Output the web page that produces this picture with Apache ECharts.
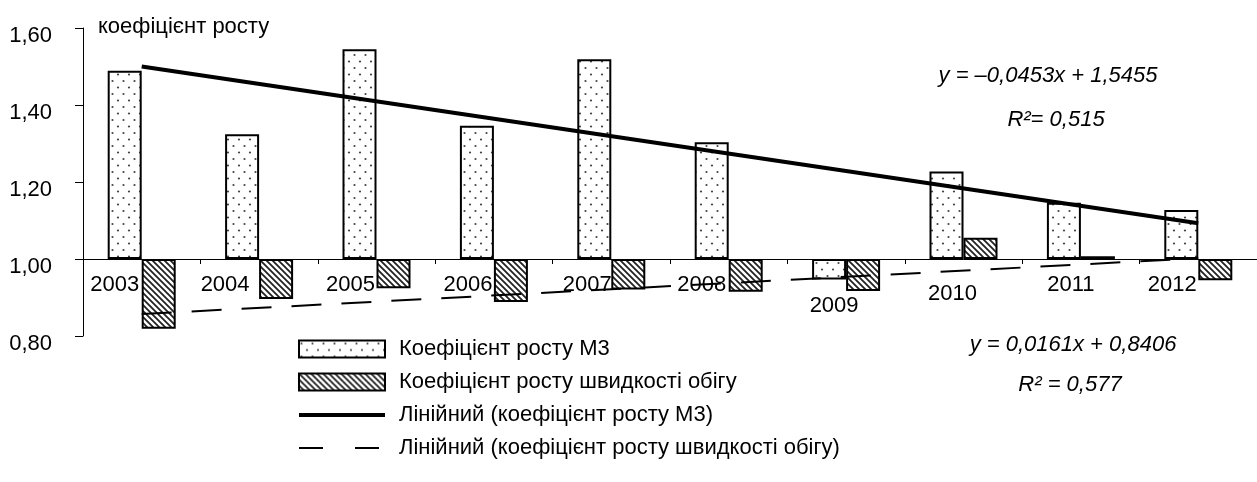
<!DOCTYPE html>
<html>
<head>
<meta charset="utf-8">
<script src="https://cdn.jsdelivr.net/npm/echarts@6/dist/echarts.min.js"></script>
<style>
html,body{margin:0;padding:0;background:#fff;}
#chart{width:1257px;height:482px;}
</style>
</head>
<body>
<div id="chart"></div>
<script>
// ---- data ----
const years = ['2003','2004','2005','2006','2007','2008','2009','2010','2011','2012'];
const m3Growth = [1.489, 1.324, 1.545, 1.346, 1.519, 1.303, 0.947, 1.227, 1.146, 1.127];
const velocityGrowth = [0.819, 0.896, 0.924, 0.888, 0.921, 0.915, 0.917, 1.055, 1.007, 0.945];
const m3TrendEnds = [1.500, 1.093];        // linear trend at 2003 and 2012
const velocityTrendEnds = [0.857, 1.002];  // linear trend at 2003 and 2012
const yTickLabels = ['0,80','1,00','1,20','1,40','1,60'];
const seriesNames = ['Коефіцієнт росту М3','Коефіцієнт росту швидкості обігу',
  'Лінійний (коефіцієнт росту М3)','Лінійний (коефіцієнт росту швидкості обігу)'];
const axisTitle = 'коефіцієнт росту';
const eqM3 = 'y = –0,0453x + 1,5455';
const r2M3 = 'R²= 0,515';
const eqVel = 'y = 0,0161x + 0,8406';
const r2Vel = 'R² = 0,577';
const BASE = 1.0;   // bars grow from 1,00
const Y_MIN = 0.8;  // bottom of the value axis

// ---- styling ----
const FONT = "'Liberation Sans',Arial,sans-serif";
const FS = 22;
const labelShiftLeft = [27, 34, 26, 26, 24, 27, 12, 11, 10, 26];
const labelShiftDown = [0, 0, 0, 0, 0, 0, 21, 9, 0, 0];

function dotPattern(){
  const c = document.createElement('canvas'); c.width = 11; c.height = 13;
  const g = c.getContext('2d');
  g.fillStyle = '#fff'; g.fillRect(0,0,11,13);
  g.fillStyle = '#444';
  g.beginPath(); g.arc(2.5,3,1.1,0,Math.PI*2); g.fill();
  g.beginPath(); g.arc(8,9.5,1.1,0,Math.PI*2); g.fill();
  return {image: c, repeat: 'repeat'};
}
function hatchPattern(){
  const s = 6;
  const c = document.createElement('canvas'); c.width = s; c.height = s;
  const g = c.getContext('2d');
  g.fillStyle = '#fff'; g.fillRect(0,0,s,s);
  g.strokeStyle = '#222'; g.lineWidth = 1.8;
  g.beginPath();
  g.moveTo(-1,-1); g.lineTo(s+1,s+1);
  g.moveTo(-1,s-1); g.lineTo(1,s+1);
  g.moveTo(s-1,-1); g.lineTo(s+1,1);
  g.stroke();
  return {image: c, repeat: 'repeat'};
}

const rich = {};
years.forEach((y,i)=>{
  rich['l'+i] = {fontFamily: FONT, fontSize: FS, color: '#000',
    padding: [labelShiftDown[i], labelShiftLeft[i]*2, 0, 0]};
});

const gridTop = 28, gridBottom = 146, gridH = 482 - gridTop - gridBottom;
const zeroOffset = (BASE - Y_MIN) / 0.8 * gridH; // px from grid bottom up to the 1,00 line

const chart = echarts.init(document.getElementById('chart'), null, {renderer:'canvas'});
const option = {
  animation: false,
  backgroundColor: '#fff',
  grid: {left: 83, right: -6, top: gridTop, bottom: gridBottom, containLabel: false},
  xAxis: {
    type: 'category',
    data: years,
    boundaryGap: true,
    axisLine: {onZero: true, lineStyle: {color: '#000', width: 1}},
    axisTick: {show: true, length: 5, lineStyle: {color: '#000'}},
    axisLabel: {
      margin: 15 - zeroOffset,
      formatter: (v, i) => '{l' + i + '|' + v + '}',
      rich: rich
    },
    splitLine: {show: false}
  },
  yAxis: {
    type: 'value',
    min: Y_MIN - BASE, max: 0.6, interval: 0.2,
    axisLine: {show: true, lineStyle: {color: '#000', width: 1}},
    axisTick: {show: true, length: 8, lineStyle: {color: '#000'}},
    axisLabel: {
      margin: 31,
      fontFamily: FONT, fontSize: FS, color: '#000',
      verticalAlign: 'top', lineHeight: 16,
      formatter: (v) => yTickLabels[Math.round((v - (Y_MIN - BASE)) / 0.2)]
    },
    splitLine: {show: false}
  },
  legend: {
    orient: 'vertical',
    left: 292, top: 333,
    itemWidth: 86, itemHeight: 17, itemGap: 11,
    textStyle: {fontFamily: FONT, fontSize: FS, color: '#000', padding: [0,0,0,9]},
    data: [
      {name: seriesNames[0], icon: 'rect'},
      {name: seriesNames[1], icon: 'rect'},
      {name: seriesNames[2], lineStyle: {width: 4},
        itemStyle: {color: 'rgba(0,0,0,0)', borderWidth: 0, opacity: 0}},
      {name: seriesNames[3], lineStyle: {width: 2, type: [24, 32]},
        itemStyle: {color: 'rgba(0,0,0,0)', borderWidth: 0, opacity: 0}}
    ]
  },
  series: [
    {
      name: seriesNames[0], type: 'bar',
      data: m3Growth.map(v => v - BASE),
      barWidth: 34, barGap: '0%',
      itemStyle: {color: dotPattern(), borderColor: '#000', borderWidth: 2},
      z: 2
    },
    {
      name: seriesNames[1], type: 'bar',
      data: velocityGrowth.map(v => v - BASE),
      barWidth: 34, barGap: '0%',
      itemStyle: {color: hatchPattern(), borderColor: '#000', borderWidth: 2},
      z: 2
    },
    {
      name: seriesNames[2], type: 'line',
      data: [[years[0], m3TrendEnds[0] - BASE], [years[years.length-1], m3TrendEnds[1] - BASE]],
      symbol: 'none',
      lineStyle: {color: '#000', width: 4},
      itemStyle: {color: '#000'},
      z: 5
    },
    {
      name: seriesNames[3], type: 'line',
      data: [[years[0], velocityTrendEnds[0] - BASE], [years[years.length-1], velocityTrendEnds[1] - BASE]],
      symbol: 'none',
      lineStyle: {color: '#000', width: 2, type: [30, 20]},
      itemStyle: {color: '#000'},
      z: 5
    }
  ],
  graphic: [
    {type: 'text', left: 98, top: 16, style: {text: axisTitle, font: FS + 'px ' + FONT, fill: '#000'}},
    {type: 'text', x: 1048, y: 76, style: {text: eqM3, font: 'italic ' + FS + 'px ' + FONT, fill: '#000', align: 'center', verticalAlign: 'middle'}},
    {type: 'text', x: 1056, y: 120, style: {text: r2M3, font: 'italic ' + FS + 'px ' + FONT, fill: '#000', align: 'center', verticalAlign: 'middle'}},
    {type: 'text', x: 1073, y: 345, style: {text: eqVel, font: 'italic ' + FS + 'px ' + FONT, fill: '#000', align: 'center', verticalAlign: 'middle'}},
    {type: 'text', x: 1070, y: 385, style: {text: r2Vel, font: 'italic ' + FS + 'px ' + FONT, fill: '#000', align: 'center', verticalAlign: 'middle'}}
  ]
};
chart.setOption(option);
</script>
</body>
</html>
